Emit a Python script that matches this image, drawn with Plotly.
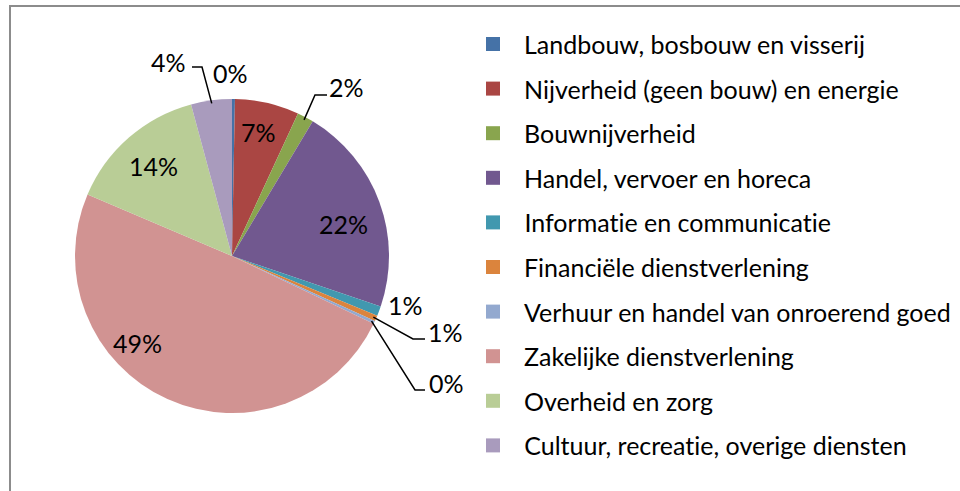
import math
import plotly.graph_objects as go

# ---- data ----
categories = [
    "Landbouw, bosbouw en visserij",
    "Nijverheid (geen bouw) en energie",
    "Bouwnijverheid",
    "Handel, vervoer en horeca",
    "Informatie en communicatie",
    "Financiële dienstverlening",
    "Verhuur en handel van onroerend goed",
    "Zakelijke dienstverlening",
    "Overheid en zorg",
    "Cultuur, recreatie, overige diensten",
]
shares = [0.3, 6.6, 1.7, 21.6, 1.0, 0.6, 0.3, 49.3, 14.4, 4.2]
colors = ["#4572A7", "#AA4643", "#89A54E", "#71588F", "#4198AF",
          "#DB843D", "#93A9CF", "#D19392", "#B9CD96", "#A99BBD"]

# ---- layout constants (pixels) ----
W, H = 960, 491
CX, CY, R = 232, 256, 157
FONT = "Lato"
FS = 25

def px(x):
    return x / W

def py(y):
    return 1 - y / H

total = sum(shares)
labels_txt = [f"{int(v / total * 100 + 0.5)}%" for v in shares]

# mid angle (degrees clockwise from 12 o'clock) of each slice
mids = []
cum = 0.0
for v in shares:
    mids.append((cum + v / 2) / total * 360)
    cum += v

def polar(angle_deg, r):
    a = math.radians(angle_deg)
    return CX + r * math.sin(a), CY - r * math.cos(a)

fig = go.Figure(go.Pie(
    labels=categories,
    values=shares,
    sort=False,
    direction="clockwise",
    rotation=0,
    marker=dict(colors=colors, line=dict(width=0)),
    textinfo="none",
    hoverinfo="label+percent",
    showlegend=False,
    domain=dict(x=[px(CX - R), px(CX + R)], y=[py(CY + R), py(CY - R)]),
))

annotations = []
shapes = []

def label(x, y, text, xanchor="center"):
    annotations.append(dict(x=px(x), y=py(y), xref="paper", yref="paper",
                            text=text, showarrow=False,
                            xanchor=xanchor, yanchor="middle",
                            font=dict(family=FONT, size=FS, color="#000")))

# inside labels: (index, radius fraction, angle tweak)
inside = [(1, 0.81, -1), (3, 0.74, 4), (7, 0.82, 23), (8, 0.76, 0)]
for i, frac, d in inside:
    x, y = polar(mids[i] + d, R * frac)
    label(x, y, labels_txt[i])

# outside labels: (index, text centre, leader elbow points or None)
outside = [
    (0, (230, 73), None),
    (2, (346, 87), [(315, 95), (327, 95)]),
    (4, (405, 305), None),
    (5, (445, 332), [(413, 339), (425, 339)]),
    (6, (446, 383), [(415, 390), (425, 390)]),
    (9, (168, 62), [(202, 67), (192, 67)]),
]
for i, (tx, ty), elbow in outside:
    label(tx, ty, labels_txt[i])
    if elbow:
        ax, ay = polar(mids[i], R - 3)
        pts = [(ax, ay)] + elbow
        path = "M " + " L ".join(f"{px(x)},{py(y)}" for x, y in pts)
        shapes.append(dict(type="path", xref="paper", yref="paper", path=path,
                           line=dict(color="#000", width=1.5)))

# manual legend
LX, LY0, LDY = 493, 44, 44.6
for k, (name, col) in enumerate(zip(categories, colors)):
    yc = LY0 + k * LDY
    shapes.append(dict(type="rect", xref="paper", yref="paper",
                       x0=px(LX - 7), x1=px(LX + 7), y0=py(yc + 7), y1=py(yc - 7),
                       fillcolor=col, line=dict(width=0)))
    label(522, yc, name, xanchor="left")

# chart frame
shapes.append(dict(type="path", xref="paper", yref="paper",
                   path=f"M {px(10)},{py(500)} L {px(10)},{py(6)} L {px(970)},{py(6)}",
                   line=dict(color="#8C8C8C", width=2)))

fig.update_layout(
    width=W, height=H,
    margin=dict(l=0, r=0, t=0, b=0),
    paper_bgcolor="white",
    plot_bgcolor="white",
    annotations=annotations,
    shapes=shapes,
    xaxis=dict(visible=False),
    yaxis=dict(visible=False),
)

post = (
    "document.body.style.margin='0';"
    "document.body.style.overflow='hidden';"
    "var s=document.createElement('style');"
    "s.textContent='text{font-variant-ligatures:none !important;font-feature-settings:\"liga\" 0,\"clig\" 0 !important;}';"
    "document.head.appendChild(s);"
)
fig.write_html("out.html", config={"displayModeBar": False}, post_script=post)
